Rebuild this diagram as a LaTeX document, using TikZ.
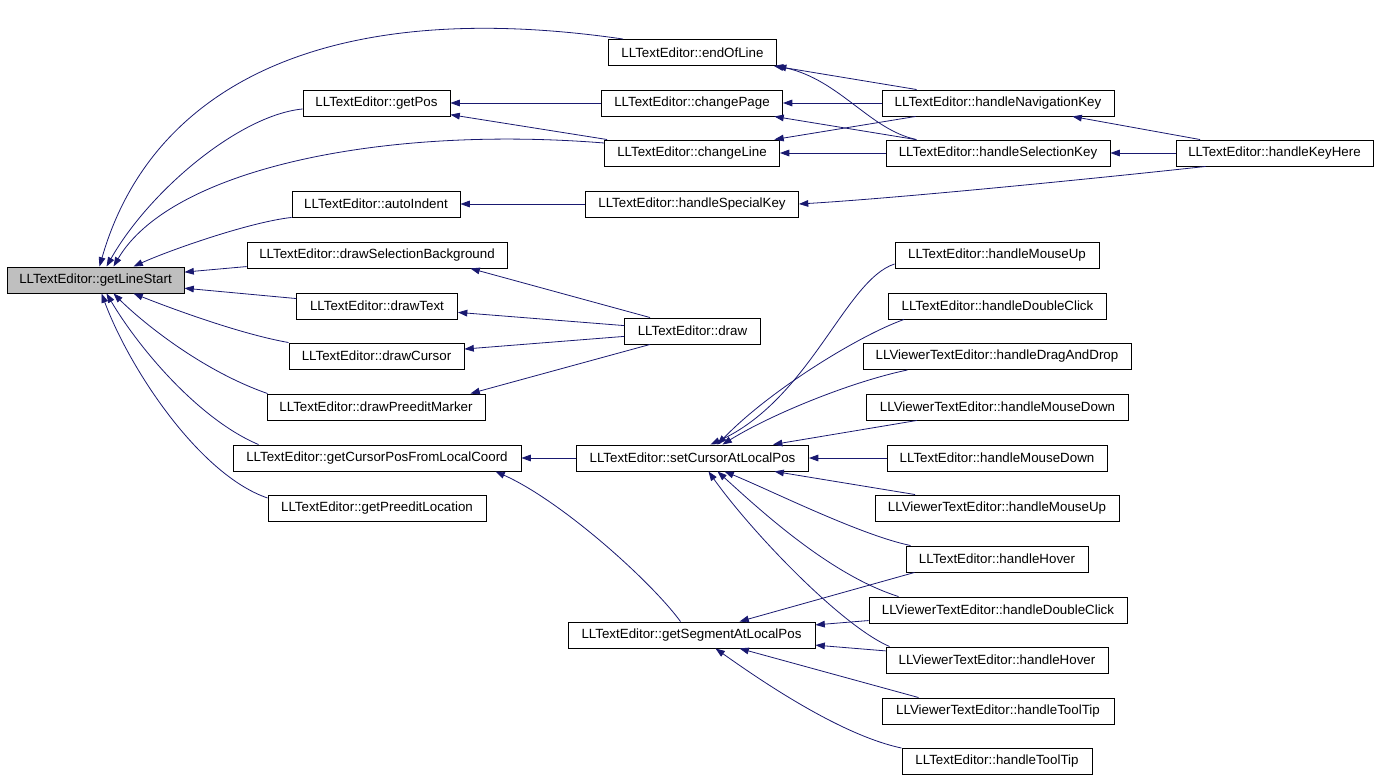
\documentclass[tikz,border=0pt]{standalone}
\usepackage{fontspec}
\setmainfont{Liberation Sans}
\usetikzlibrary{arrows.meta, calc}
\definecolor{edgeblue}{HTML}{191970}
\tikzset{
	fn/.style={draw=black, line width=0.7pt, inner sep=0pt, minimum height=19.5pt},
	root/.style={fn, fill=black!25},
	call/.style={draw=edgeblue, line width=0.6pt, -{Triangle[length=7pt, width=5pt]}}
}

\begin{document}
\begin{tikzpicture}[x=0.75pt, y=-0.75pt]
		\useasboundingbox (0,0) rectangle (1379,780);
		\node [root, minimum width=132.75pt] (start) at (95.5,280) {LLTextEditor::getLineStart};

		\node [fn, minimum width=110.25pt] (pos) at (376.5,103) {LLTextEditor::getPos};
		\node [fn, minimum width=126pt] (indent) at (376,204) {LLTextEditor::autoIndent};
		\node [fn, minimum width=195pt] (selbg) at (377,255) {LLTextEditor::drawSelectionBackground};
		\node [fn, minimum width=120.75pt] (text) at (377,306) {LLTextEditor::drawText};
		\node [fn, minimum width=131.25pt] (cursor) at (376.5,356) {LLTextEditor::drawCursor};
		\node [fn, minimum width=163.5pt] (marker) at (376,407) {LLTextEditor::drawPreeditMarker};
		\node [fn, minimum width=216pt] (coord) at (377,458) {LLTextEditor::getCursorPosFromLocalCoord};
		\node [fn, minimum width=163.5pt] (preedit) at (377,508) {LLTextEditor::getPreeditLocation};

		\node [fn, minimum width=126pt] (eol) at (692.5,52.5) {LLTextEditor::endOfLine};
		\node [fn, minimum width=135.75pt] (page) at (692,103) {LLTextEditor::changePage};
		\node [fn, minimum width=131.25pt] (line) at (692,153) {LLTextEditor::changeLine};
		\node [fn, minimum width=159.75pt] (special) at (692,204) {LLTextEditor::handleSpecialKey};
		\node [fn, minimum width=102pt] (drw) at (692.5,331) {LLTextEditor::draw};
		\node [fn, minimum width=174pt] (setcur) at (692.5,458) {LLTextEditor::setCursorAtLocalPos};
		\node [fn, minimum width=185.25pt] (seg) at (691.5,635) {LLTextEditor::getSegmentAtLocalPos};

		\node [fn, minimum width=174pt] (nav) at (998,103) {LLTextEditor::handleNavigationKey};
		\node [fn, minimum width=168pt] (sel) at (998,153) {LLTextEditor::handleSelectionKey};
		\node [fn, minimum width=147.75pt] (keyhere) at (1274.5,153) {LLTextEditor::handleKeyHere};
		\node [fn, minimum width=153pt] (mouseup) at (997,255) {LLTextEditor::handleMouseUp};
		\node [fn, minimum width=163.5pt] (dblclick) at (997.5,306) {LLTextEditor::handleDoubleClick};
		\node [fn, minimum width=201pt] (vdrag) at (997,356.5) {LLViewerTextEditor::handleDragAndDrop};
		\node [fn, minimum width=196.5pt] (vmousedown) at (997.5,407) {LLViewerTextEditor::handleMouseDown};
		\node [fn, minimum width=165pt] (mousedown) at (997,458) {LLTextEditor::handleMouseDown};
		\node [fn, minimum width=183pt] (vmouseup) at (997,508) {LLViewerTextEditor::handleMouseUp};
		\node [fn, minimum width=136.5pt] (hover) at (997,559) {LLTextEditor::handleHover};
		\node [fn, minimum width=193.5pt] (vdblclick) at (998,610) {LLViewerTextEditor::handleDoubleClick};
		\node [fn, minimum width=166.5pt] (vhover) at (997,660) {LLViewerTextEditor::handleHover};
		\node [fn, minimum width=174pt] (vtooltip) at (998,711) {LLViewerTextEditor::handleToolTip};
		\node [fn, minimum width=142.5pt] (tooltip) at (997,761.5) {LLTextEditor::handleToolTip};

		% straight calls
		\foreach \a/\b in {page/pos, line/pos, nav/eol, nav/page, sel/page, nav/line, sel/line,
			keyhere/nav, keyhere/sel, special/indent, selbg/start, text/start, drw/text, drw/cursor,
			setcur/coord, vmousedown/setcur, mousedown/setcur, vmouseup/setcur, vdblclick/seg, vhover/seg} {
			\draw [call] (\a) -- (\b);
		};
		\draw [call] ($(drw.north west)+(26,0)$) -- ($(selbg.south east)+(-37,0)$);
		\draw [call] ($(drw.south west)+(26,0)$) -- ($(marker.north east)+(-15,0)$);
		\draw [call] ($(hover.south west)+(9,0)$) -- ($(seg.north)+(48,0)$);
		\draw [call] ($(vtooltip.north west)+(37,0)$) -- ($(seg.south)+(48,0)$);

		% curved calls
		\draw [call] ($(eol.north west)+(15,0)$) .. controls (320,-5) and (150,90) .. ($(start.north)+(4,0)$);
		\draw [call] ($(pos.west)+(0,6)$) .. controls (240,115) and (150,190) .. ($(start.north)+(11,0)$);
		\draw [call] ($(line.west)+(0,-10)$) .. controls (380,125) and (170,170) .. ($(start.north)+(18,0)$);
		\draw [call] (indent.south west) .. controls (250,222) and (170,250) .. ($(start.north)+(38,0)$);
		\draw [call] (cursor.north west) .. controls (240,334) and (170,308) .. ($(start.south)+(38,0)$);
		\draw [call] ($(marker.north west)+(1,0)$) .. controls (200,370) and (140,320) .. ($(start.south)+(18,0)$);
		\draw [call] ($(coord.north west)+(26,0)$) .. controls (200,420) and (140,350) .. ($(start.south)+(11,0)$);
		\draw [call] ($(preedit.west)+(0,-10)$) .. controls (200,475) and (130,370) .. ($(start.south)+(6,0)$);
		\draw [call] ($(sel.north west)+(31,0)$) .. controls (870,130) and (840,80) .. (eol.south east);
		\draw [call] ($(keyhere.south west)+(30,0)$) .. controls (1100,178) and (900,198) .. (special.east);
		\draw [call] ($(seg.north)+(-11,0)$) .. controls (650,580) and (560,500) .. ($(coord.south east)+(-26,0)$);
		\draw [call] ($(mouseup.west)+(0,9)$) .. controls (845,280) and (810,400) .. ($(setcur.north)+(18,0)$);
		\draw [call] ($(dblclick.south west)+(16,0)$) .. controls (860,335) and (770,390) .. ($(setcur.north)+(25,0)$);
		\draw [call] ($(vdrag.south west)+(45,0)$) .. controls (850,382) and (770,415) .. ($(setcur.north)+(30,0)$);
		\draw [call] ($(hover.north west)+(5,0)$) .. controls (860,535) and (770,490) .. ($(setcur.south)+(32,0)$);
		\draw [call] ($(vdblclick.north west)+(30,0)$) .. controls (830,575) and (760,510) .. ($(setcur.south)+(25,0)$);
		\draw [call] ($(vhover.north west)+(4,0)$) .. controls (840,625) and (750,530) .. ($(setcur.south)+(16,0)$);
		\draw [call] (tooltip.north west) .. controls (840,735) and (760,680) .. ($(seg.south)+(24,0)$);

	\end{tikzpicture}
\end{document}
